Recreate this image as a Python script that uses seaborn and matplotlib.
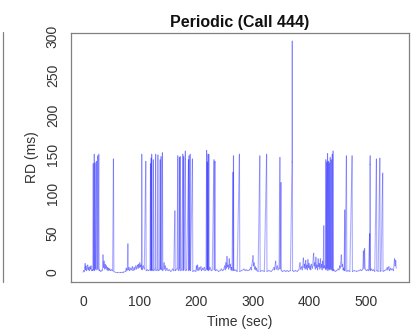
import pandas as pd
import seaborn as sns
import matplotlib.pyplot as plt
from matplotlib.lines import Line2D

# RD trace (time in sec, RD in ms)
time_sec = [
    0, 1, 2, 3, 3.5, 4, 5, 6, 7, 8, 9, 10, 11, 12, 13, 14, 15, 16,
    17, 17.8, 18.4, 19.6, 20.2, 21, 21.6, 23.5, 24.2, 25.5, 26.2, 27.6, 28.2,
    29, 31, 33, 34, 35, 36, 37, 38, 39, 40, 41, 42, 43, 44, 45, 46, 47, 48, 50, 52, 53.5, 54.2,
    56, 60, 65, 70, 75,
    76, 77, 78, 79, 79.6, 81, 82, 84, 85, 87, 88, 90, 91, 93, 94, 96, 97, 98, 99, 100, 101, 102,
    103, 103.5, 104.2, 106, 108, 110.6, 111.3, 113, 115, 118, 119, 119.5, 120, 120.5, 121, 121.6,
    123, 124, 124.6, 127, 128, 128.6, 131, 132, 132.6, 135, 136, 136.5, 137.5, 138, 139, 140, 140.6,
    141, 143, 144, 145, 146, 148, 150, 152, 155, 158, 160, 162, 162.6, 164, 166, 167, 167.6, 169,
    170, 170.5, 171.5, 172.2, 174, 176, 176.6, 177.5, 178, 180.5, 181.2, 183, 186, 186.4, 187, 187.6,
    189, 189.6, 193, 193.6, 196, 199, 200, 201, 202, 203, 205, 206, 208, 209, 211, 212, 214, 215,
    217, 218, 218.5, 219.3, 219.8, 220.5, 221, 222, 222.6, 224, 226, 228, 231, 231.5, 232.5, 233, 233.6,
    236, 239, 242, 244, 246, 248, 250, 251, 252, 253, 254, 255, 256, 257, 258, 259, 260, 261, 262, 263,
    264.5, 265, 265.5, 266, 268, 270, 272, 276, 276.6, 280, 284, 286, 288, 291, 294, 296, 297, 298,
    299, 300, 301, 302, 303, 304, 305, 306, 307, 309, 312, 312.6, 316, 320, 324, 324.6, 328, 332,
    335, 337, 338, 340, 341, 343, 344, 346, 347.5, 348, 349.4, 350, 352, 355, 358, 360, 363, 366,
    369, 369.3, 369.8, 372, 375, 378, 381, 383, 384, 386, 387, 389, 390, 391, 392, 393, 394, 395,
    396, 397, 398, 399, 400, 401, 402, 403, 405, 407, 408, 409, 410, 411, 412, 413, 414, 415, 416,
    417, 418, 419, 420, 421, 422, 423, 424, 425, 425.6, 426, 428, 428.6, 429.2, 430.2, 430.8,
    431.6, 432.2, 433.2, 433.8, 434.8, 435.4, 436.4, 437, 438.2, 438.8, 440, 440.6,
    441.4, 442, 443, 445, 448, 450, 452, 453, 454, 455, 456, 457, 458, 459, 460,
    461, 462, 462.5, 465, 465.6, 468, 471, 475, 475.6, 479, 483, 487, 490, 492, 494, 495, 496, 497,
    498, 500, 502, 504, 506, 506.3, 506.6, 507, 507.4, 509, 511, 513, 515, 518, 518.6, 521, 524,
    524.6, 526, 529, 529.6, 532, 535, 537, 538, 540, 541, 543, 544, 546, 548, 550, 551, 552, 553,
]
rd_ms = [
    0, 2, 1, 6, 11, 3, 8, 2, 5, 9, 3, 6, 2, 7, 4, 8, 2, 3,
    2, 138, 3, 150, 2, 139, 4, 141, 3, 148, 4, 150, 2,
    3, 1, 2, 3, 22, 6, 14, 4, 10, 5, 8, 3, 6, 2, 5, 3, 4, 2, 3, 2, 144, 1,
    0, 0, 0, 0, 1,
    5, 2, 4, 36, 3, 6, 2, 5, 3, 7, 2, 6, 3, 8, 4, 9, 5, 10, 6, 12, 7, 9,
    4, 150, 3, 8, 4, 141, 2, 3, 2, 3, 138, 2, 145, 3, 150, 2,
    3, 143, 2, 4, 150, 2, 3, 149, 2, 3, 143, 4, 147, 3, 5, 152, 2,
    3, 12, 4, 8, 2, 5, 2, 3, 1, 4, 2, 78, 2, 3, 5, 148, 3, 2,
    146, 4, 147, 2, 3, 150, 2, 147, 3, 154, 2, 3, 143, 2, 148, 3,
    150, 2, 144, 1, 2, 1, 8, 3, 9, 2, 6, 3, 7, 2, 5, 3, 6, 2,
    3, 155, 4, 140, 3, 150, 2, 150, 3, 6, 2, 3, 143, 3, 139, 141, 2,
    3, 1, 2, 4, 2, 3, 8, 3, 12, 5, 20, 7, 9, 4, 17, 6, 10, 3, 6, 2,
    127, 3, 148, 2, 3, 2, 1, 150, 1, 2, 4, 2, 3, 2, 3, 6, 3, 9,
    14, 21, 8, 12, 4, 7, 3, 5, 2, 1, 148, 1, 2, 1, 150, 1, 2, 1,
    3, 6, 3, 14, 4, 8, 3, 5, 146, 4, 114, 2, 1, 2, 1, 2, 1, 2,
    140, 294, 2, 1, 2, 1, 3, 12, 4, 7, 3, 18, 6, 10, 4, 15, 5, 9,
    3, 16, 6, 11, 4, 8, 3, 10, 5, 24, 8, 12, 4, 19, 6, 9, 3, 17, 7,
    11, 4, 17, 6, 10, 3, 14, 5, 59, 6, 8, 4, 143, 3, 140, 5,
    151, 2, 141, 4, 139, 3, 146, 4, 143, 3, 150, 2,
    154, 2, 3, 1, 2, 4, 3, 8, 5, 12, 22, 7, 10, 3, 5,
    2, 79, 2, 148, 1, 2, 1, 148, 1, 2, 1, 2, 3, 2, 4, 27, 5, 30,
    4, 2, 3, 2, 49, 3, 137, 148, 2, 4, 2, 3, 1, 144, 2, 1, 145,
    1, 2, 126, 1, 2, 3, 6, 3, 7, 2, 5, 3, 4, 2, 17, 8, 15, 5,
]

# one row pair per segment so overlapping strokes darken like the original
seg_rows = []
for i in range(len(time_sec) - 1):
    seg_rows.append({"seg": i, "Time": time_sec[i], "RD": rd_ms[i]})
    seg_rows.append({"seg": i, "Time": time_sec[i + 1], "RD": rd_ms[i + 1]})
seg_df = pd.DataFrame(seg_rows)

sns.set_style("white")
plt.rcParams["font.family"] = ["Liberation Sans", "DejaVu Sans"]

fig = plt.figure(figsize=(4.16, 3.31), dpi=100)
ax = fig.add_axes([71 / 416, 1 - 282 / 331, 338 / 416, 249.5 / 331])

sns.lineplot(data=seg_df, x="Time", y="RD", units="seg", estimator=None,
             color="#0000ff", alpha=0.32, linewidth=0.8, ax=ax)

ax.set_xlim(-21.5, 575.5)
ax.set_ylim(-12.5, 305)
ax.set_xticks([0, 100, 200, 300, 400, 500])
ax.set_yticks([0, 50, 100, 150, 200, 250, 300])
for lab in ax.get_yticklabels():
    lab.set_rotation(90)
    lab.set_va("center")

for sp in ax.spines.values():
    sp.set_color("#808080")
    sp.set_linewidth(0.9)
ax.tick_params(axis="both", direction="out", length=5, width=0.8, color="#808080",
               labelsize=10, labelcolor="#333333", pad=4)
ax.tick_params(axis="y", pad=3)

ax.set_xlabel("Time (sec)", fontsize=10, color="#333333")
ax.set_ylabel("RD (ms)", fontsize=10, color="#333333")
ax.xaxis.label.set_va("center")
ax.yaxis.label.set_va("center")
ax.xaxis.set_label_coords(0.5, -0.159)
ax.yaxis.set_label_coords(-0.116, 0.5)
ax.set_title("Periodic (Call 444)", fontsize=11.5, fontweight="bold", color="#111111", pad=4)

# edge of the neighbouring panel on the left
fig.add_artist(Line2D([2.5 / 416, 2.5 / 416], [1 - 282 / 331, 1 - 32 / 331],
                      color="#808080", linewidth=0.9))

plt.savefig("out.png", dpi=100)
